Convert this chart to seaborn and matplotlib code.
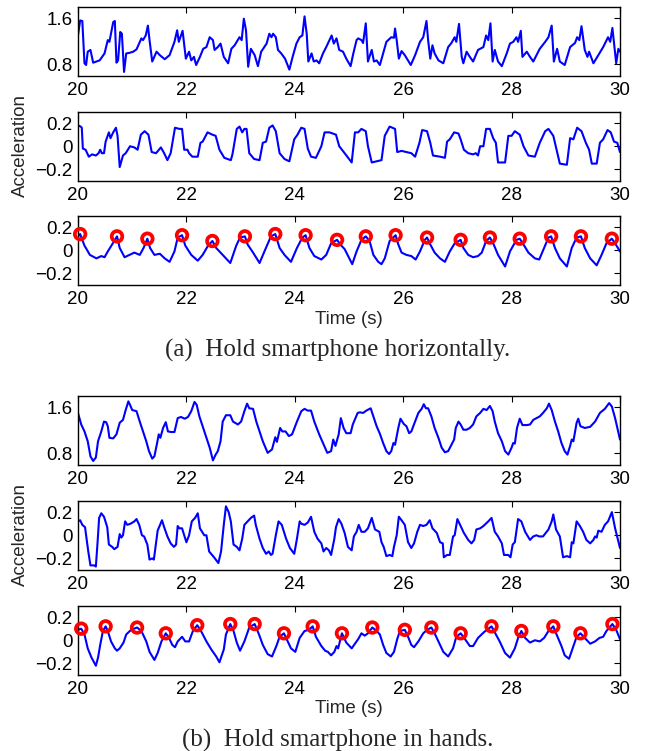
import numpy as np
import pandas as pd
import seaborn as sns
import matplotlib.pyplot as plt

sns.set_theme(style="white")
plt.rcParams['font.family'] = ['Liberation Sans', 'DejaVu Sans']
plt.rcParams['axes.unicode_minus'] = True

# ---- (a) hold smartphone horizontally ----
# raw magnitude
t_a1 = [20.00, 20.04, 20.08, 20.12, 20.15, 20.18, 20.23, 20.28, 20.40, 20.49, 20.55, 20.58, 20.65, 20.68,
        20.71, 20.74, 20.78, 20.81, 20.85, 20.89, 20.95, 21.02, 21.08, 21.17, 21.20, 21.25, 21.29, 21.32,
        21.37, 21.45, 21.51, 21.60, 21.69, 21.78, 21.83, 21.86, 21.93, 21.99, 22.05, 22.09, 22.14, 22.18,
        22.25, 22.31, 22.37, 22.43, 22.49, 22.52, 22.58, 22.63, 22.69, 22.77, 22.83, 22.89, 22.98, 23.02,
        23.06, 23.10, 23.14, 23.19, 23.26, 23.32, 23.38, 23.48, 23.53, 23.57, 23.60, 23.65, 23.69, 23.75,
        23.82, 23.90, 23.96, 24.03, 24.09, 24.14, 24.18, 24.22, 24.25, 24.31, 24.35, 24.40, 24.45, 24.52,
        24.58, 24.68, 24.72, 24.77, 24.82, 24.89, 24.95, 25.03, 25.08, 25.14, 25.17, 25.23, 25.26, 25.31,
        25.35, 25.42, 25.46, 25.51, 25.57, 25.63, 25.69, 25.78, 25.83, 25.85, 25.88, 25.92, 25.97, 26.03,
        26.14, 26.22, 26.31, 26.37, 26.43, 26.46, 26.50, 26.54, 26.58, 26.65, 26.74, 26.83, 26.89, 26.95,
        26.98, 27.03, 27.08, 27.11, 27.17, 27.23, 27.29, 27.38, 27.48, 27.53, 27.57, 27.61, 27.65, 27.69,
        27.75, 27.82, 27.91, 27.97, 28.03, 28.09, 28.12, 28.17, 28.20, 28.28, 28.34, 28.40, 28.52, 28.62,
        28.68, 28.74, 28.78, 28.84, 28.89, 28.98, 29.08, 29.17, 29.21, 29.25, 29.29, 29.35, 29.40, 29.43,
        29.51, 29.60, 29.69, 29.78, 29.82, 29.86, 29.93, 29.97, 30.00]
acc_a1 = [1.30, 1.56, 1.55, 0.82, 0.79, 1.02, 1.05, 0.83, 0.87, 0.99, 1.22, 1.19, 1.53, 1.55,
          0.83, 0.87, 1.36, 1.33, 0.67, 0.99, 1.00, 1.02, 1.06, 1.25, 1.22, 1.30, 1.47, 1.22,
          0.85, 1.02, 0.96, 0.89, 0.96, 1.19, 1.39, 1.19, 1.38, 0.90, 1.02, 0.87, 0.93, 0.79,
          0.93, 1.07, 1.10, 1.27, 1.22, 1.05, 1.10, 1.16, 0.93, 0.82, 1.07, 1.13, 1.27, 1.22,
          1.59, 1.39, 0.76, 1.07, 0.96, 0.77, 1.02, 1.16, 1.33, 1.27, 1.33, 1.27, 1.05, 0.99,
          0.90, 0.71, 0.93, 1.16, 1.27, 1.30, 1.63, 1.33, 0.85, 0.99, 0.85, 0.87, 0.82, 0.99,
          1.10, 1.30, 1.16, 1.25, 1.05, 1.02, 0.90, 0.77, 0.99, 1.22, 1.25, 1.22, 1.17, 1.51,
          0.85, 1.05, 0.85, 0.87, 0.79, 0.99, 1.19, 1.27, 1.26, 1.42, 1.22, 0.90, 1.03, 0.96,
          0.79, 0.96, 1.19, 1.27, 1.55, 1.22, 0.90, 1.13, 0.99, 0.87, 0.82, 1.10, 1.17, 1.27,
          1.19, 1.50, 0.93, 0.82, 1.02, 0.93, 0.85, 1.05, 1.10, 1.30, 1.22, 1.51, 0.85, 1.05,
          0.85, 0.77, 0.99, 1.16, 1.19, 1.27, 1.19, 1.38, 0.93, 1.02, 0.93, 0.85, 1.07, 1.19,
          1.27, 1.47, 0.85, 1.07, 0.85, 0.79, 1.10, 1.17, 1.27, 1.22, 1.46, 1.05, 0.93, 1.02,
          0.82, 0.96, 1.10, 1.27, 1.19, 1.43, 0.82, 1.07, 1.02]

# band-passed
t_a2 = [20.00, 20.05, 20.07, 20.09, 20.14, 20.20, 20.26, 20.33, 20.38, 20.41, 20.44, 20.48, 20.51, 20.57,
        20.60, 20.65, 20.70, 20.73, 20.77, 20.83, 20.88, 20.96, 21.04, 21.10, 21.16, 21.23, 21.30, 21.36,
        21.44, 21.53, 21.59, 21.65, 21.71, 21.79, 21.87, 21.92, 21.96, 22.02, 22.05, 22.11, 22.21, 22.26,
        22.30, 22.39, 22.48, 22.54, 22.61, 22.70, 22.82, 22.85, 22.93, 22.98, 23.03, 23.07, 23.11, 23.16,
        23.25, 23.35, 23.41, 23.47, 23.53, 23.59, 23.65, 23.72, 23.81, 23.90, 23.99, 24.05, 24.12, 24.18,
        24.24, 24.30, 24.39, 24.49, 24.55, 24.64, 24.76, 24.82, 24.92, 25.05, 25.11, 25.17, 25.23, 25.31,
        25.35, 25.42, 25.51, 25.60, 25.66, 25.75, 25.85, 25.89, 25.97, 26.06, 26.15, 26.22, 26.30, 26.35,
        26.44, 26.50, 26.55, 26.68, 26.77, 26.81, 26.86, 26.94, 27.02, 27.06, 27.12, 27.20, 27.29, 27.34,
        27.38, 27.42, 27.48, 27.53, 27.60, 27.66, 27.71, 27.75, 27.88, 27.94, 28.00, 28.06, 28.15, 28.22,
        28.31, 28.43, 28.52, 28.62, 28.68, 28.77, 28.83, 28.89, 29.02, 29.08, 29.14, 29.21, 29.29, 29.37,
        29.43, 29.48, 29.57, 29.63, 29.69, 29.77, 29.83, 29.89, 29.95, 30.00]
acc_a2 = [0.18, 0.17, 0.16, -0.02, -0.03, -0.09, -0.07, -0.08, -0.06, -0.03, -0.06, -0.06, 0.04, 0.12,
          0.07, 0.12, 0.16, 0.09, -0.18, -0.08, -0.06, 0.00, -0.01, -0.03, 0.10, 0.13, 0.10, -0.05,
          -0.06, -0.01, -0.06, -0.12, -0.06, 0.16, 0.15, 0.15, -0.03, -0.03, -0.06, -0.09, -0.09, 0.03,
          0.04, 0.12, 0.10, 0.09, -0.03, -0.10, -0.12, -0.07, 0.15, 0.17, 0.12, 0.15, 0.15, -0.06,
          -0.11, -0.12, 0.03, 0.04, 0.16, 0.18, 0.13, -0.06, -0.11, -0.13, 0.06, 0.10, 0.16, 0.15,
          -0.02, -0.09, -0.10, 0.00, 0.12, 0.12, 0.10, 0.00, -0.06, -0.14, 0.12, 0.12, 0.15, 0.13,
          0.00, -0.14, -0.13, -0.12, 0.09, 0.17, 0.15, -0.05, -0.04, -0.05, -0.06, -0.09, 0.03, 0.14,
          0.13, 0.03, -0.08, -0.09, -0.10, 0.04, 0.06, 0.12, 0.11, 0.06, -0.03, -0.06, -0.07, -0.06,
          -0.08, 0.00, 0.00, 0.15, 0.15, 0.07, 0.03, -0.14, -0.14, 0.09, 0.09, 0.13, 0.10, 0.00,
          -0.08, -0.09, 0.03, 0.13, 0.15, 0.09, -0.03, -0.15, -0.16, 0.07, 0.06, 0.16, 0.13, 0.03,
          -0.03, -0.15, -0.15, 0.03, 0.06, 0.14, 0.12, 0.04, 0.03, -0.05]

# smoothed, with detected steps
t_a3 = [20.00, 20.04, 20.12, 20.22, 20.34, 20.43, 20.49, 20.55, 20.63, 20.72, 20.77, 20.86, 20.95, 21.04,
        21.14, 21.21, 21.28, 21.33, 21.41, 21.51, 21.60, 21.69, 21.78, 21.84, 21.92, 21.98, 22.09, 22.21,
        22.30, 22.40, 22.48, 22.55, 22.67, 22.81, 22.92, 22.99, 23.08, 23.13, 23.23, 23.35, 23.44, 23.56,
        23.64, 23.72, 23.81, 23.93, 24.04, 24.14, 24.20, 24.27, 24.36, 24.49, 24.58, 24.67, 24.78, 24.84,
        24.92, 25.06, 25.14, 25.23, 25.31, 25.38, 25.45, 25.54, 25.60, 25.66, 25.75, 25.86, 25.91, 25.97,
        26.06, 26.15, 26.23, 26.31, 26.40, 26.44, 26.50, 26.58, 26.68, 26.77, 26.86, 26.95, 27.06, 27.11,
        27.20, 27.29, 27.38, 27.45, 27.53, 27.60, 27.67, 27.75, 27.88, 27.97, 28.09, 28.15, 28.22, 28.31,
        28.43, 28.51, 28.60, 28.68, 28.73, 28.80, 28.89, 29.02, 29.11, 29.20, 29.28, 29.35, 29.45, 29.57,
        29.66, 29.75, 29.85, 29.91, 30.00]
acc_a3 = [0.12, 0.14, 0.04, -0.04, -0.07, -0.05, -0.06, -0.01, 0.05, 0.12, 0.02, -0.06, -0.04, -0.02,
          -0.04, 0.02, 0.10, 0.02, -0.04, -0.03, -0.07, -0.10, -0.01, 0.11, 0.13, 0.04, -0.04, -0.09,
          -0.04, 0.04, 0.08, 0.02, -0.04, -0.11, 0.04, 0.11, 0.12, 0.05, -0.02, -0.11, -0.01, 0.12,
          0.14, 0.02, -0.04, -0.10, 0.02, 0.11, 0.13, 0.02, -0.05, -0.08, -0.04, 0.06, 0.09, 0.05,
          0.01, -0.12, -0.01, 0.09, 0.12, 0.08, -0.04, -0.10, -0.12, -0.07, 0.08, 0.13, 0.05, -0.02,
          -0.04, -0.05, -0.08, -0.01, 0.09, 0.11, 0.05, -0.02, -0.07, -0.10, -0.01, 0.06, 0.09, 0.02,
          -0.04, -0.06, -0.05, -0.02, 0.08, 0.11, 0.05, -0.04, -0.14, -0.01, 0.09, 0.10, 0.05, -0.02,
          -0.07, -0.08, 0.02, 0.11, 0.12, 0.02, -0.07, -0.14, 0.02, 0.11, 0.12, 0.02, -0.07, -0.13,
          -0.04, 0.06, 0.10, 0.06, -0.01]
peak_t_a = [20.04, 20.72, 21.28, 21.92, 22.48, 23.08, 23.64, 24.20, 24.78, 25.31, 25.86, 26.44, 27.06,
            27.60, 28.15, 28.73, 29.28, 29.85]
peak_v_a = [0.14, 0.12, 0.10, 0.13, 0.08, 0.12, 0.14, 0.13, 0.09, 0.12, 0.13, 0.11, 0.09,
            0.11, 0.10, 0.12, 0.12, 0.10]

# ---- (b) hold smartphone in hands ----
t_b1 = [20.00, 20.06, 20.12, 20.18, 20.23, 20.28, 20.33, 20.37, 20.43, 20.48, 20.52, 20.55, 20.58, 20.65,
        20.71, 20.77, 20.83, 20.88, 20.93, 20.96, 21.00, 21.08, 21.14, 21.20, 21.26, 21.31, 21.37, 21.41,
        21.46, 21.49, 21.52, 21.57, 21.62, 21.66, 21.72, 21.78, 21.84, 21.90, 21.97, 22.03, 22.09, 22.15,
        22.19, 22.24, 22.30, 22.37, 22.43, 22.49, 22.54, 22.58, 22.63, 22.67, 22.73, 22.81, 22.86, 22.95,
        23.01, 23.07, 23.12, 23.16, 23.23, 23.29, 23.35, 23.41, 23.50, 23.58, 23.64, 23.67, 23.73, 23.77,
        23.83, 23.89, 23.95, 24.04, 24.12, 24.18, 24.24, 24.30, 24.36, 24.45, 24.52, 24.60, 24.67, 24.71,
        24.75, 24.81, 24.85, 24.90, 24.95, 25.03, 25.07, 25.16, 25.20, 25.26, 25.32, 25.40, 25.45, 25.51,
        25.57, 25.63, 25.69, 25.74, 25.78, 25.82, 25.85, 25.91, 25.95, 26.01, 26.06, 26.11, 26.15, 26.22,
        26.28, 26.34, 26.38, 26.42, 26.46, 26.52, 26.58, 26.65, 26.71, 26.77, 26.83, 26.89, 26.94, 26.97,
        27.02, 27.06, 27.11, 27.17, 27.23, 27.29, 27.35, 27.42, 27.48, 27.54, 27.60, 27.65, 27.69, 27.75,
        27.82, 27.88, 27.94, 28.00, 28.03, 28.06, 28.10, 28.15, 28.20, 28.28, 28.34, 28.40, 28.46, 28.52,
        28.58, 28.65, 28.69, 28.74, 28.80, 28.86, 28.92, 28.98, 29.03, 29.08, 29.11, 29.14, 29.20, 29.23,
        29.27, 29.35, 29.45, 29.54, 29.63, 29.72, 29.80, 29.85, 29.91, 30.00]
acc_b1 = [1.50, 1.30, 1.18, 1.01, 0.75, 0.67, 0.73, 1.01, 1.18, 1.35, 1.34, 1.27, 1.07, 1.06,
          1.13, 1.33, 1.38, 1.55, 1.70, 1.64, 1.55, 1.53, 1.35, 1.18, 1.01, 0.84, 0.71, 0.75,
          0.98, 1.13, 1.07, 1.24, 1.34, 1.18, 1.17, 1.17, 1.41, 1.43, 1.40, 1.43, 1.53, 1.69,
          1.64, 1.44, 1.27, 1.07, 0.90, 0.68, 0.78, 0.84, 1.01, 1.35, 1.46, 1.46, 1.35, 1.30,
          1.35, 1.53, 1.66, 1.58, 1.57, 1.35, 1.18, 1.01, 0.81, 0.87, 1.08, 1.00, 1.24, 1.18,
          1.18, 1.10, 1.13, 1.35, 1.53, 1.57, 1.54, 1.54, 1.35, 1.13, 0.98, 0.81, 0.84, 1.04,
          0.93, 1.13, 1.41, 1.24, 1.15, 1.15, 1.30, 1.50, 1.51, 1.50, 1.54, 1.58, 1.44, 1.27,
          1.14, 0.98, 0.84, 0.79, 0.84, 0.98, 0.95, 1.24, 1.40, 1.31, 1.27, 1.15, 1.18, 1.35,
          1.50, 1.57, 1.65, 1.58, 1.58, 1.44, 1.24, 1.07, 0.90, 0.82, 0.84, 0.95, 1.04, 1.24,
          1.35, 1.30, 1.21, 1.21, 1.24, 1.30, 1.44, 1.50, 1.57, 1.55, 1.62, 1.53, 1.35, 1.15,
          1.01, 0.84, 0.78, 0.90, 0.98, 0.97, 1.24, 1.40, 1.29, 1.29, 1.30, 1.38, 1.41, 1.44,
          1.50, 1.58, 1.66, 1.55, 1.35, 1.18, 0.98, 0.84, 0.78, 0.93, 1.04, 1.01, 1.33, 1.40,
          1.27, 1.24, 1.26, 1.35, 1.50, 1.57, 1.67, 1.61, 1.41, 1.04]

t_b2 = [20.00, 20.04, 20.08, 20.13, 20.15, 20.19, 20.23, 20.30, 20.33, 20.36, 20.39, 20.43, 20.48, 20.54,
        20.57, 20.63, 20.67, 20.73, 20.77, 20.80, 20.83, 20.87, 20.91, 20.97, 21.04, 21.08, 21.13, 21.18,
        21.22, 21.28, 21.32, 21.37, 21.40, 21.47, 21.55, 21.59, 21.65, 21.71, 21.77, 21.81, 21.84, 21.87,
        21.92, 21.96, 22.00, 22.05, 22.10, 22.16, 22.21, 22.25, 22.33, 22.37, 22.42, 22.51, 22.59, 22.64,
        22.69, 22.73, 22.78, 22.82, 22.87, 22.93, 22.98, 23.03, 23.07, 23.13, 23.19, 23.25, 23.28, 23.35,
        23.41, 23.47, 23.52, 23.56, 23.59, 23.65, 23.70, 23.76, 23.84, 23.91, 23.99, 24.04, 24.09, 24.12,
        24.18, 24.24, 24.30, 24.36, 24.42, 24.49, 24.53, 24.58, 24.63, 24.67, 24.73, 24.76, 24.81, 24.86,
        24.92, 24.98, 25.05, 25.09, 25.14, 25.18, 25.23, 25.29, 25.35, 25.42, 25.48, 25.56, 25.60, 25.64,
        25.69, 25.75, 25.80, 25.83, 25.88, 25.92, 25.97, 26.03, 26.09, 26.15, 26.20, 26.26, 26.31, 26.37,
        26.43, 26.49, 26.54, 26.62, 26.68, 26.73, 26.75, 26.81, 26.86, 26.92, 26.95, 27.00, 27.06, 27.12,
        27.20, 27.26, 27.31, 27.35, 27.42, 27.48, 27.57, 27.63, 27.69, 27.75, 27.82, 27.86, 27.94, 27.98,
        28.02, 28.06, 28.12, 28.18, 28.25, 28.34, 28.40, 28.46, 28.51, 28.58, 28.68, 28.74, 28.77, 28.82,
        28.89, 28.95, 29.02, 29.08, 29.11, 29.14, 29.20, 29.26, 29.32, 29.38, 29.45, 29.51, 29.54, 29.57,
        29.60, 29.66, 29.72, 29.78, 29.85, 29.91, 30.00]
acc_b2 = [0.12, 0.13, 0.09, 0.07, 0.00, -0.14, -0.26, -0.26, -0.27, -0.07, 0.15, 0.19, 0.16, 0.07,
          -0.08, -0.10, -0.12, -0.10, 0.01, -0.02, 0.00, 0.12, 0.09, 0.10, 0.12, 0.14, 0.09, 0.00,
          -0.01, -0.08, -0.21, -0.20, -0.21, 0.04, 0.13, 0.07, -0.01, -0.07, -0.10, -0.08, 0.08, 0.06,
          0.06, 0.00, -0.06, 0.00, 0.12, 0.15, 0.19, 0.06, 0.00, 0.00, -0.14, -0.19, -0.24, -0.14,
          0.09, 0.25, 0.20, 0.12, -0.08, -0.10, -0.13, -0.03, 0.09, 0.12, 0.15, 0.17, 0.09, -0.03,
          -0.11, -0.16, -0.14, -0.17, -0.16, 0.00, 0.12, 0.09, -0.03, -0.11, -0.16, -0.03, 0.12, 0.10,
          0.09, 0.11, 0.16, 0.03, -0.03, -0.07, -0.14, -0.11, -0.13, -0.17, -0.03, 0.07, 0.14, 0.10,
          0.02, -0.10, -0.13, -0.01, 0.03, 0.09, 0.03, 0.03, 0.06, 0.15, 0.05, 0.03, -0.06, -0.10,
          -0.18, -0.17, -0.18, -0.10, 0.00, 0.16, 0.13, 0.09, -0.06, -0.11, -0.07, 0.03, 0.09, 0.08,
          0.09, 0.13, 0.06, 0.02, -0.06, -0.07, -0.19, -0.17, -0.17, -0.01, 0.00, 0.14, 0.08, 0.02,
          -0.04, -0.07, -0.04, 0.05, 0.06, 0.08, 0.12, 0.15, 0.03, -0.01, -0.07, -0.17, -0.17, -0.19,
          -0.08, -0.06, 0.14, 0.12, 0.03, -0.04, -0.01, 0.00, -0.01, -0.01, 0.05, 0.12, 0.18, 0.05,
          -0.01, -0.19, -0.18, -0.19, -0.06, -0.07, 0.12, 0.08, 0.03, -0.04, -0.07, -0.04, -0.01, -0.02,
          0.04, 0.03, 0.09, 0.12, 0.20, 0.06, -0.11]

t_b3 = [20.00, 20.06, 20.12, 20.18, 20.25, 20.33, 20.37, 20.41, 20.46, 20.51, 20.55, 20.61, 20.68, 20.72,
        20.77, 20.84, 20.89, 20.98, 21.09, 21.17, 21.26, 21.32, 21.41, 21.47, 21.54, 21.62, 21.68, 21.74,
        21.79, 21.84, 21.92, 21.98, 22.05, 22.12, 22.20, 22.27, 22.37, 22.46, 22.55, 22.61, 22.69, 22.73,
        22.81, 22.87, 22.93, 22.99, 23.07, 23.16, 23.26, 23.34, 23.41, 23.50, 23.58, 23.66, 23.72, 23.80,
        23.87, 23.93, 24.01, 24.09, 24.18, 24.26, 24.33, 24.39, 24.49, 24.56, 24.61, 24.67, 24.73, 24.77,
        24.80, 24.87, 24.95, 25.05, 25.11, 25.17, 25.23, 25.29, 25.35, 25.43, 25.51, 25.57, 25.63, 25.69,
        25.77, 25.83, 25.89, 25.94, 26.03, 26.09, 26.15, 26.20, 26.28, 26.37, 26.44, 26.52, 26.58, 26.66,
        26.74, 26.83, 26.92, 26.98, 27.06, 27.14, 27.23, 27.29, 27.38, 27.49, 27.63, 27.71, 27.78, 27.88,
        27.97, 28.06, 28.12, 28.18, 28.25, 28.34, 28.43, 28.52, 28.60, 28.68, 28.77, 28.83, 28.92, 28.98,
        29.06, 29.14, 29.20, 29.27, 29.35, 29.45, 29.54, 29.62, 29.69, 29.75, 29.86, 29.93, 30.00]
acc_b3 = [0.09, 0.10, 0.05, -0.07, -0.15, -0.22, -0.15, -0.04, 0.08, 0.12, 0.08, -0.01, -0.07, -0.09,
          -0.07, -0.02, 0.05, 0.09, 0.11, 0.08, -0.01, -0.10, -0.17, -0.11, -0.01, 0.06, 0.02, -0.04,
          -0.06, -0.01, 0.03, -0.01, -0.01, 0.08, 0.13, 0.08, -0.01, -0.08, -0.14, -0.19, -0.08, 0.05,
          0.14, 0.08, -0.02, -0.09, -0.01, 0.11, 0.14, 0.05, -0.04, -0.12, -0.14, -0.05, 0.03, 0.06,
          -0.01, -0.07, -0.10, 0.02, 0.08, 0.09, 0.12, 0.03, -0.05, -0.09, -0.10, -0.13, -0.10, -0.05,
          -0.07, 0.06, -0.02, -0.07, -0.03, 0.01, 0.06, 0.04, 0.06, 0.11, 0.08, 0.05, -0.04, -0.11,
          -0.14, -0.10, 0.01, 0.08, 0.09, 0.03, -0.04, -0.06, -0.01, 0.06, 0.09, 0.11, 0.06, -0.02,
          -0.10, -0.14, -0.07, 0.03, 0.06, 0.01, -0.05, -0.05, 0.02, 0.07, 0.12, 0.05, -0.01, -0.11,
          -0.15, -0.07, 0.02, 0.08, 0.02, -0.02, 0.00, -0.01, 0.02, 0.08, 0.12, 0.05, -0.05, -0.13,
          -0.16, -0.05, 0.03, 0.06, 0.02, -0.03, -0.01, 0.02, 0.03, 0.08, 0.14, 0.09, 0.01]
peak_t_b = [20.06, 20.51, 21.09, 21.62, 22.20, 22.81, 23.26, 23.80, 24.33, 24.87, 25.43, 26.03, 26.52,
            27.06, 27.63, 28.18, 28.77, 29.27, 29.86]
peak_v_b = [0.10, 0.12, 0.11, 0.06, 0.13, 0.14, 0.14, 0.06, 0.12, 0.06, 0.11, 0.09, 0.11,
            0.06, 0.12, 0.08, 0.12, 0.06, 0.14]

x_ticks = [20, 22, 24, 26, 28, 30]
mag_ticks = [0.8, 1.6]
mag_labels = ['0.8', '1.6']
bp_ticks = [-0.2, 0, 0.2]
bp_labels = ['\u22120.2', '0', '0.2']
captions = ['(a)  Hold smartphone horizontally.', '(b)  Hold smartphone in hands.']

fig = plt.figure(figsize=(6.52, 7.51), dpi=100)

left, width, height = 0.1196, 0.8313, 0.0925
bottoms = [0.8988, 0.7590, 0.6205, 0.3808, 0.2410, 0.1012]


def style_axis(ax, ylim, yticks, ylabels):
    ax.set_xlim(20, 30)
    ax.set_ylim(*ylim)
    ax.set_xticks(x_ticks)
    ax.set_xticklabels([str(v) for v in x_ticks])
    ax.set_yticks(yticks)
    ax.set_yticklabels(ylabels)
    ax.tick_params(direction='in', length=4, width=0.8, top=True, right=True,
                   labelsize=13.5, colors='black', pad=4)
    ax.set_xlabel('')
    ax.set_ylabel('')
    for s in ax.spines.values():
        s.set_color('black')
        s.set_linewidth(1.0)


series = [(t_a1, acc_a1, (0.6, 1.8), mag_ticks, mag_labels, None),
          (t_a2, acc_a2, (-0.3, 0.3), bp_ticks, bp_labels, None),
          (t_a3, acc_a3, (-0.3, 0.3), bp_ticks, bp_labels, (peak_t_a, peak_v_a)),
          (t_b1, acc_b1, (0.6, 1.8), mag_ticks, mag_labels, None),
          (t_b2, acc_b2, (-0.3, 0.3), bp_ticks, bp_labels, None),
          (t_b3, acc_b3, (-0.3, 0.3), bp_ticks, bp_labels, (peak_t_b, peak_v_b))]

for (t, acc, ylim, yt, yl, peaks), b in zip(series, bottoms):
    ax = fig.add_axes([left, b, width, height])
    df = pd.DataFrame({'t': t, 'acc': acc})
    sns.lineplot(data=df, x='t', y='acc', ax=ax, color='#0000ff', linewidth=1.5,
                 estimator=None, sort=False)
    if peaks is not None:
        pk = pd.DataFrame({'t': peaks[0], 'acc': peaks[1]})
        sns.scatterplot(data=pk, x='t', y='acc', ax=ax, marker='o', s=58,
                        facecolors='none', edgecolor='#ff0000', linewidth=2.7,
                        clip_on=False, zorder=5)
    style_axis(ax, ylim, yt, yl)

# shared labels
for y in (0.806, 0.288):
    fig.text(0.031, y, 'Acceleration', rotation=90, ha='center', va='center', fontsize=13.5)
for y in (0.574, 0.057):
    fig.text(0.535, y, 'Time (s)', ha='center', va='center', fontsize=13.5)
fig.text(0.518, 0.534, captions[0], ha='center', va='center', fontsize=18,
         family=['Liberation Serif', 'DejaVu Serif'])
fig.text(0.518, 0.0146, captions[1], ha='center', va='center', fontsize=18,
         family=['Liberation Serif', 'DejaVu Serif'])

fig.savefig('out.png', dpi=100)
